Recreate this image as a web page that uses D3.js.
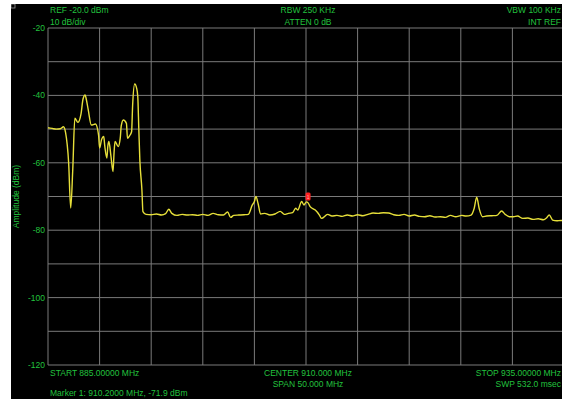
<!DOCTYPE html>
<html>
<head>
<meta charset="utf-8">
<script src="https://cdn.jsdelivr.net/npm/d3@7"></script>
<style>
  body { margin: 0; background: #fff; }
  text { font-family: "Liberation Sans", Arial, sans-serif; }
</style>
</head>
<body>
<script>
// trace: frequency (MHz) and amplitude (dBm)
const freqs = [
  885.0, 885.4, 885.8, 886.2, 886.5, 886.7, 887.0, 887.2, 887.4, 887.6,
  887.9, 888.2, 888.4, 888.6, 888.7, 888.9, 889.2, 889.6, 889.9, 890.0,
  890.2, 890.4, 890.5, 890.7, 890.8, 890.9, 891.1, 891.3, 891.4, 891.5,
  891.8, 892.0, 892.1, 892.3, 892.6, 892.7, 892.9, 893.1, 893.2, 893.4,
  893.6, 893.7, 893.8, 893.9, 894.1, 894.2, 894.5, 895.0, 895.5, 896.0,
  896.4, 896.7, 897.0, 897.5, 898.0, 898.5, 899.0, 899.5, 900.0, 900.5,
  901.0, 901.5, 902.0, 902.4, 902.7, 903.0, 903.5, 904.0, 904.4, 904.8,
  905.0, 905.15, 905.35, 905.6, 906.0, 906.5, 907.0, 907.5, 907.9, 908.3,
  908.7, 909.0, 909.2, 909.58, 909.8, 910.05, 910.2, 910.4, 910.6, 910.9,
  911.3, 911.5, 912.1, 912.5, 913.0, 913.5, 914.0, 914.5, 915.0, 915.5,
  916.0, 916.5, 917.0, 917.5, 918.0, 918.5, 919.0, 919.5, 920.0, 920.5,
  921.0, 921.5, 922.0, 922.5, 923.0, 923.5, 924.0, 924.5, 925.1, 925.5,
  926.0, 926.3, 926.54, 926.8, 927.1, 927.5, 928.0, 928.5, 928.96, 929.3,
  929.7, 930.1, 930.5, 931.0, 931.5, 932.0, 932.5, 933.0, 933.3, 933.57,
  933.9, 934.3, 934.7, 935.0
];
const amps = [
  -49.6, -49.8, -50.0, -49.9, -49.3, -51.0, -60.0, -73.4, -62.0, -46.8,
  -48.0, -45.5, -41.0, -39.9, -41.0, -44.3, -48.8, -48.5, -51.8, -55.6,
  -53.0, -52.2, -55.0, -58.6, -55.0, -53.7, -58.0, -62.6, -57.0, -53.7,
  -55.2, -52.7, -49.0, -47.3, -48.3, -52.7, -52.0, -50.8, -43.0, -36.6,
  -38.0, -40.4, -50.0, -59.2, -68.0, -74.5, -75.3, -75.4, -75.2, -75.5,
  -75.1, -73.8, -75.0, -75.6, -75.3, -75.5, -75.4, -75.6, -75.3, -75.6,
  -75.0, -75.4, -75.5, -74.6, -76.2, -75.6, -75.5, -75.4, -75.3, -72.5,
  -71.5, -70.0, -72.0, -75.2, -75.0, -75.5, -75.2, -74.4, -75.3, -75.0,
  -74.8, -73.5, -74.0, -71.5, -72.5, -71.6, -71.9, -73.0, -73.5, -74.0,
  -75.5, -76.5, -75.3, -75.8, -75.6, -75.9, -75.5, -75.8, -75.4, -75.7,
  -75.3, -74.9, -75.0, -74.8, -74.9, -75.4, -75.6, -75.3, -75.8, -75.5,
  -75.9, -76.0, -75.7, -76.1, -76.0, -76.2, -75.6, -76.0, -75.6, -75.8,
  -75.5, -73.5, -70.2, -73.8, -76.0, -75.8, -75.7, -75.6, -74.3, -75.3,
  -76.0, -76.0, -75.8, -76.5, -76.4, -76.8, -76.6, -76.9, -76.4, -75.5,
  -77.0, -77.2, -77.1, -77.3
];
const yTicks = [-20, -40, -60, -80, -100, -120];
const marker = { freq: 910.2, amp: -71.9, label: "1" };
const headerLeft = ["REF -20.0 dBm", "10 dB/div"];
const headerMid = ["RBW 250 KHz", "ATTEN 0 dB"];
const headerRight = ["VBW 100 KHz", "INT REF"];
const footerLeft = ["START 885.00000 MHz", "Marker 1: 910.2000 MHz, -71.9 dBm"];
const footerMid = ["CENTER 910.000 MHz", "SPAN 50.000 MHz"];
const footerRight = ["STOP 935.00000 MHz", "SWP 532.0 msec"];

const W = 565, H = 401;
const green = "#22c23e";
const fs = 8.5;
const plotL = 48, plotR = 564, plotT = 28, plotB = 365;

const svg = d3.select("body").append("svg")
  .attr("width", W).attr("height", H);

svg.append("defs").append("clipPath").attr("id", "screen")
  .append("rect").attr("x", 11).attr("y", 4).attr("width", 551).attr("height", 395);

svg.append("rect").attr("x", 11).attr("y", 4).attr("width", 551).attr("height", 395)
  .attr("fill", "#000");

const g = svg.append("g").attr("clip-path", "url(#screen)");

// little status box in the corner
g.append("rect").attr("x", 11).attr("y", 4).attr("width", 4).attr("height", 4)
  .attr("fill", "none").attr("stroke", "#999").attr("stroke-width", 0.8);

const x = d3.scaleLinear().domain([885, 935]).range([plotL, plotR]);
const y = d3.scaleLinear().domain([-120, -20]).range([plotB, plotT]);

// grid: 10 x 10 divisions
const grid = g.append("g").attr("stroke", "#7a7a7a").attr("stroke-width", 1);
grid.selectAll("line.v").data(d3.range(0, 11)).enter().append("line")
  .attr("x1", i => x(885 + i * 5)).attr("x2", i => x(885 + i * 5))
  .attr("y1", plotT).attr("y2", plotB);
grid.selectAll("line.h").data(d3.range(0, 11)).enter().append("line")
  .attr("y1", i => y(-20 - i * 10)).attr("y2", i => y(-20 - i * 10))
  .attr("x1", plotL).attr("x2", plotR);

// y tick labels
g.append("g").selectAll("text").data(yTicks).enter().append("text")
  .attr("x", 45).attr("y", d => y(d) + 3)
  .attr("text-anchor", "end").attr("fill", green).attr("font-size", fs)
  .text(d => d);

g.append("text")
  .attr("transform", `translate(19,${(plotT + plotB) / 2}) rotate(-90)`)
  .attr("text-anchor", "middle").attr("fill", green).attr("font-size", fs)
  .text("Amplitude (dBm)");

// trace
const line = d3.line().x(d => x(d[0])).y(d => y(d[1])).curve(d3.curveMonotoneX);
g.append("path")
  .datum(d3.zip(freqs, amps))
  .attr("fill", "none").attr("stroke", "#e6df3a").attr("stroke-width", 1.4)
  .attr("stroke-linejoin", "round")
  .attr("d", line);

// marker
const mx = x(marker.freq), my = y(marker.amp);
g.append("rect").attr("x", mx - 2.5).attr("y", my - 10.5).attr("width", 5).attr("height", 8)
  .attr("rx", 1.5).attr("fill", "#ff2222");
g.append("text").attr("x", mx).attr("y", my - 4).attr("text-anchor", "middle")
  .attr("font-size", 5).attr("fill", "#ffaaaa").text(marker.label);

// header / footer text
function block(lines, xPos, yPos, anchor, step) {
  g.append("g").selectAll("text").data(lines).enter().append("text")
    .attr("x", xPos).attr("y", (d, i) => yPos + i * step)
    .attr("text-anchor", anchor).attr("fill", green).attr("font-size", fs)
    .text(d => d);
}
block(headerLeft, 50, 13, "start", 11.5);
block(headerMid, 308, 13, "middle", 11.5);
block(headerRight, 561, 13, "end", 11.5);
block(footerLeft, 50, 376, "start", 20);
block(footerMid, 308, 376, "middle", 10.5);
block(footerRight, 561, 376, "end", 10.5);
</script>
</body>
</html>
